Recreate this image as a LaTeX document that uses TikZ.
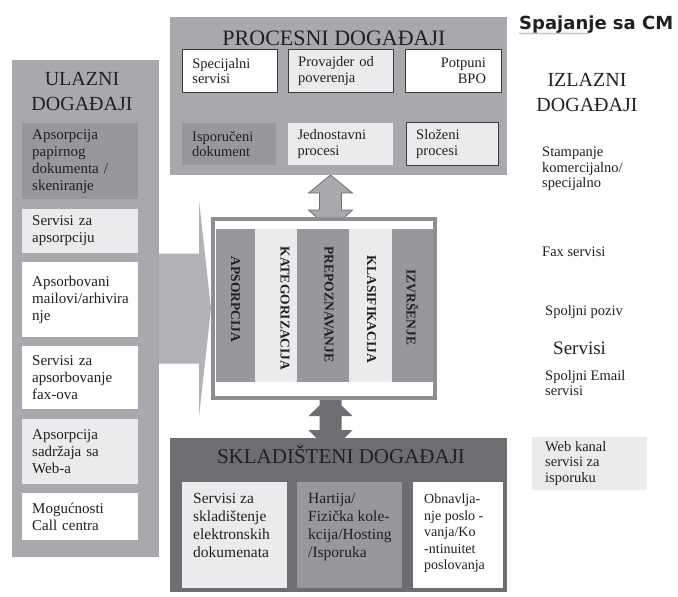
\documentclass[tikz,border=0pt]{standalone}
\usepackage{fontspec}
\setmainfont{Liberation Serif}
\newfontfamily\spajanjefont{DejaVu Sans}
\usetikzlibrary{positioning,calc,backgrounds,decorations.pathmorphing}

\definecolor{panelsiva}{HTML}{A8A9AD}
\definecolor{tamna}{HTML}{97989C}
\definecolor{svetla}{HTML}{EBEBED}
\definecolor{donjasiva}{HTML}{6D6E72}
\definecolor{okvirsiva}{HTML}{8E8F93}
\definecolor{strelicasiva}{HTML}{B2B3B7}
\definecolor{ivicasiva}{HTML}{3A3A3C}
\definecolor{tekst}{HTML}{231F20}

\begin{document}
\begin{tikzpicture}[x=1pt, y=-1pt,
		panel/.style={rectangle, anchor=north west, inner sep=0pt, outer sep=0pt},
		naslov/.style={align=center, text=tekst, inner sep=0pt},
		ulazbox/.style={rectangle, anchor=north west, text width=96pt, inner xsep=10pt, inner ysep=2pt, align=left, text=tekst, font=\fontsize{15}{17}\selectfont},
		procbox/.style={rectangle, anchor=north west, inner xsep=10pt, inner ysep=2pt, align=left, text=tekst, font=\fontsize{14.5}{15.5}\selectfont},
		ivica/.style={draw=ivicasiva, line width=0.8pt},
		kolona/.style={rectangle, anchor=north west, inner sep=0pt, outer sep=0pt, minimum height=153pt},
		kolonatekst/.style={rotate=-90, inner sep=0pt, text=tekst, font=\bfseries\fontsize{13.5}{16}\selectfont},
		skladbox/.style={rectangle, anchor=north west, inner sep=0pt, outer sep=0pt, minimum height=106pt},
		skladtekst/.style={anchor=north west, align=left, inner sep=0pt, text=tekst, font=\fontsize{15.5}{18}\selectfont},
		izlaz/.style={anchor=north west, align=left, inner sep=0pt, text=tekst, font=\fontsize{14.5}{15.5}\selectfont}
		]
		\useasboundingbox (0,0) rectangle (678,597);
		
		% ulazni dogadjaji
		\node[panel, fill=panelsiva, minimum width=147pt, minimum height=497pt] (ulazni) at (12,60) {};
		\node[naslov, font=\fontsize{20}{25}\selectfont] (ulazninaslov) at (82,91) {ULAZNI\\DOGAĐAJI};
		\node[ulazbox, fill=tamna, minimum height=76pt] (papir) at (22,123) {Apsorpcija\\papirnog\\dokumenta /\\skeniranje};
		\node[ulazbox, fill=svetla, minimum height=44pt, below=9pt of papir] (servisi) {Servisi za\\apsorpciju};
		\node[ulazbox, fill=white, minimum height=75pt, below=9pt of servisi] (mail) {Apsorbovani\\mailovi/arhivira\\nje};
		\node[ulazbox, fill=white, minimum height=63pt, below=9pt of mail] (fax) {Servisi za\\apsorbovanje\\fax-ova};
		\node[ulazbox, fill=svetla, minimum height=65pt, below=9pt of fax] (web) {Apsorpcija\\sadržaja sa\\Web-a};
		\node[ulazbox, fill=white, minimum height=47pt, below=9pt of web] (call) {Mogućnosti\\Call centra};
		
		% procesni dogadjaji
		\node[panel, fill=panelsiva, minimum width=337pt, minimum height=158pt] (procesni) at (170,17) {};
		\node[naslov, font=\fontsize{22}{26}\selectfont] (procesninaslov) at (334,38) {PROCESNI DOGAĐAJI};
		\node[procbox, ivica, fill=white, minimum width=95pt, minimum height=43pt, text width=75pt] (specijalni) at (182,49) {Specijalni\\servisi};
		\node[procbox, ivica, fill=svetla, minimum width=105pt, minimum height=43pt, text width=85pt, right=10pt of specijalni] (provajder) {Provajder od\\poverenja};
		\node[procbox, ivica, fill=white, minimum width=96pt, minimum height=43pt, text width=66pt, align=right, right=11pt of provajder] (bpo) {Potpuni\\BPO};
		\node[procbox, fill=tamna, minimum width=94pt, minimum height=42pt, text width=74pt] (isporuceni) at (182,123) {Isporučeni\\dokument};
		\node[procbox, fill=svetla, minimum width=105pt, minimum height=42pt, text width=85pt, right=11pt of isporuceni] (jednostavni) {Jednostavni\\procesi};
		\node[procbox, ivica, fill=svetla, minimum width=92pt, minimum height=43pt, text width=72pt, right=13pt of jednostavni] (slozeni) {Složeni\\procesi};
		
		% jezgro
		\node[draw=okvirsiva, line width=4pt, fill=white, minimum width=222pt, minimum height=179pt, inner sep=0pt] (jezgro) at (324,308.5) {};
		\node[kolona, fill=tamna, minimum width=39pt] (apsorpcija) at (216,229) {};
		\node[kolona, fill=svetla, minimum width=42pt, right=0pt of apsorpcija] (kategorizacija) {};
		\node[kolona, fill=tamna, minimum width=52pt, right=0pt of kategorizacija] (prepoznavanje) {};
		\node[kolona, fill=svetla, minimum width=43pt, right=0pt of prepoznavanje] (klasifikacija) {};
		\node[kolona, fill=tamna, minimum width=41pt, right=0pt of klasifikacija] (izvrsenje) {};
		\node[kolonatekst] at ([yshift=6pt]apsorpcija.center) {APSORPCIJA};
		\node[kolonatekst] at ([xshift=9pt,yshift=-3pt]kategorizacija.center) {KATEGORIZACIJA};
		\node[kolonatekst] at ([xshift=6pt,yshift=1pt]prepoznavanje.center) {PREPOZNAVANJE};
		\node[kolonatekst] at ([xshift=1pt,yshift=-4pt]klasifikacija.center) {KLASIFIKACIJA};
		\node[kolonatekst] at ([yshift=-2pt]izvrsenje.center) {IZVRŠENJE};
		
		% skladisteni dogadjaji
		\node[panel, fill=donjasiva, minimum width=337pt, minimum height=154pt] (skladisteni) at (170,438) {};
		\node[naslov, font=\fontsize{21}{25}\selectfont] (skladistenninaslov) at (341,455) {SKLADIŠTENI DOGAĐAJI};
		\node[skladbox, fill=svetla, minimum width=105pt] (elektronski) at (182,482) {};
		\node[skladbox, fill=tamna, minimum width=105pt, right=10pt of elektronski] (hartija) {};
		\node[skladbox, fill=white, minimum width=90pt, right=11pt of hartija] (kontinuitet) {};
		\node[skladtekst] at ([xshift=11pt,yshift=-11pt]elektronski.north west) {Servisi za\\skladištenje\\elektronskih\\dokumenata};
		\node[skladtekst] at ([xshift=11pt,yshift=-11pt]hartija.north west) {Hartija/\\Fizička kole-\\kcija/Hosting\\/Isporuka};
		\node[skladtekst, font=\fontsize{14}{16.5}\selectfont] at ([xshift=11pt,yshift=-12pt]kontinuitet.north west) {Obnavlja-\\nje poslo -\\vanja/Ko\\-ntinuitet\\poslovanja};
		
		% izlazni dogadjaji
		\node[anchor=base west, inner sep=0pt, text=tekst, font=\spajanjefont\bfseries\fontsize{18}{22}\selectfont] (spajanje) at (519,30) {Spajanje sa CM};
		\draw[decorate, decoration={snake, amplitude=0.8pt, segment length=3pt}, draw=gray!70, line width=0.5pt] ([yshift=-3.5pt]spajanje.base west) -- ++(70,0);
		\node[naslov, font=\fontsize{20}{25}\selectfont] (izlazninaslov) at (587,92) {IZLAZNI\\DOGAĐAJI};
		\node[izlaz] (stampanje) at (542,147) {Stampanje\\komercijalno/\\specijalno};
		\node[izlaz] (faks) at (542,247) {Fax servisi};
		\node[izlaz] (poziv) at (545,305) {Spoljni poziv};
		\node[izlaz, font=\fontsize{19}{22}\selectfont] (izlazservisi) at (553,342) {Servisi};
		\node[izlaz] (email) at (545,370) {Spoljni Email\\servisi};
		\node[panel, fill=svetla, minimum width=115pt, minimum height=53pt] (webkanal) at (532,437) {};
		\node[izlaz, anchor=west] at ([xshift=13pt]webkanal.west) {Web kanal\\servisi za\\isporuku};
		
		% strelice
		\begin{pgfonlayer}{background}
			\fill[strelicasiva] ([yshift=55pt]ulazni.east) -| ([xshift=-12pt,yshift=108pt]jezgro.west) -- (jezgro.west) -- ([xshift=-12pt,yshift=-108pt]jezgro.west) |- ([yshift=-55pt]ulazni.east) -- cycle;
			\filldraw[fill=panelsiva, draw=donjasiva, line width=0.8pt] ([xshift=-8pt]procesni.south) -- ++(22,18) -- ++(-11,0) -- ++(0,17) -- ++(11,0) -- ++(-22,20) -- ++(-22,-20) -- ++(11,0) -- ++(0,-17) -- ++(-11,0) -- cycle;
			\fill[donjasiva] ([xshift=-4.5pt,yshift=5pt]jezgro.south) -- ++(0,10.5) -- ++(-11,10.5) -- ++(11,0) -- ++(0,14) -- ++(-11,0) -- ++(22,22) -- ++(22,-22) -- ++(-11,0) -- ++(0,-14) -- ++(11,0) -- ++(-11,-10.5) -- ++(0,-10.5) -- cycle;
		\end{pgfonlayer}
	\end{tikzpicture}
\end{document}
